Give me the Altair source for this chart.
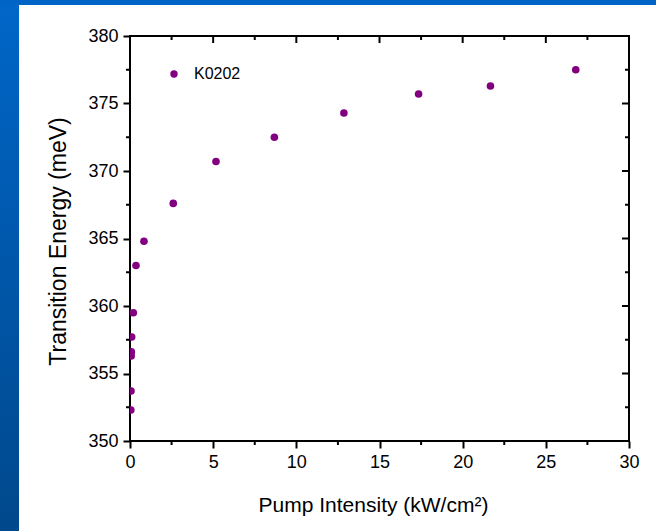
import altair as alt
import pandas as pd

# ---- data ----
series_name = "K0202"
pump_intensity = [0.05, 0.06, 0.07, 0.08, 0.10, 0.20, 0.36, 0.84, 2.60, 5.17, 8.68, 12.86, 17.35, 21.67, 26.80]
transition_energy = [352.3, 353.7, 356.3, 356.6, 357.7, 359.5, 363.0, 364.8, 367.6, 370.7, 372.5, 374.3, 375.7, 376.3, 377.5]

x_major = [0, 5, 10, 15, 20, 25, 30]
x_minor = [2.5, 7.5, 12.5, 17.5, 22.5, 27.5]
y_major = [350, 355, 360, 365, 370, 375, 380]
y_minor = [352.5, 357.5, 362.5, 367.5, 372.5, 377.5]

W, H = 499, 405
FONT = "Liberation Sans"
PURPLE = "#800080"

df = pd.DataFrame({"x": pump_intensity, "y": transition_energy, "s": [series_name] * len(pump_intensity)})

xscale = alt.Scale(domain=[0, 30], nice=False, zero=False)
yscale = alt.Scale(domain=[350, 380], nice=False, zero=False)

xaxis = alt.Axis(
    values=x_major, format="d", tickSize=7, tickWidth=2, tickColor="black",
    domain=False, grid=False, labelFont=FONT, labelFontSize=18, labelColor="black",
    labelPadding=5, labelFlush=False, labelOverlap=False,
    title="Pump Intensity (kW/cm²)", titleFont=FONT, titleFontSize=21,
    titleFontWeight="normal", titleColor="black", titleX=243, titleY=64,
    titleBaseline="middle", titleAlign="center",
)
yaxis = alt.Axis(
    values=y_major, format="d", tickSize=7, tickWidth=2, tickColor="black",
    domain=False, grid=False, labelFont=FONT, labelFontSize=18, labelColor="black",
    labelPadding=5, labelFlush=False, labelOverlap=False,
    title="Transition Energy (meV)", titleFont=FONT, titleFontSize=23,
    titleFontWeight="normal", titleColor="black", titleX=-72, titleY=205,
    titleAngle=-90, titleBaseline="middle", titleAlign="center",
)

def X(field="x"):
    return alt.X(f"{field}:Q", scale=xscale, axis=xaxis)

def Y(field="y"):
    return alt.Y(f"{field}:Q", scale=yscale, axis=yaxis)

one = alt.Data(values=[{"a": 1}])

left_band = alt.Chart(one).mark_rect(
    color=alt.LinearGradient(
        gradient="linear", x1=0, x2=0, y1=0, y2=1,
        stops=[alt.GradientStop(color="#0066C8", offset=0), alt.GradientStop(color="#00488C", offset=1)],
    )
).encode(x=alt.value(-130), x2=alt.value(-111), y=alt.value(-36), y2=alt.value(495))

top_band = alt.Chart(one).mark_rect(color="#0064C6").encode(
    x=alt.value(-130), x2=alt.value(526), y=alt.value(-36), y2=alt.value(-31)
)

xmin_df = pd.DataFrame({"x": x_minor})
xmaj_df = pd.DataFrame({"x": x_major})
ymin_df = pd.DataFrame({"y": y_minor})
ymaj_df = pd.DataFrame({"y": y_major})

rule = dict(color="black", strokeWidth=2)
bottom_minor = alt.Chart(xmin_df).mark_rule(**rule).encode(x=X(), y=alt.value(H), y2=alt.value(H + 4))
top_major = alt.Chart(xmaj_df).mark_rule(**rule).encode(x=X(), y=alt.value(0), y2=alt.value(7))
top_minor = alt.Chart(xmin_df).mark_rule(**rule).encode(x=X(), y=alt.value(0), y2=alt.value(4))
left_minor = alt.Chart(ymin_df).mark_rule(**rule).encode(y=Y(), x=alt.value(-4), x2=alt.value(0))
right_major = alt.Chart(ymaj_df).mark_rule(**rule).encode(y=Y(), x=alt.value(W - 7), x2=alt.value(W))
right_minor = alt.Chart(ymin_df).mark_rule(**rule).encode(y=Y(), x=alt.value(W - 4), x2=alt.value(W))

points = alt.Chart(df).mark_circle(size=58, opacity=1, clip=True).encode(
    x=X(),
    y=Y(),
    color=alt.Color(
        "s:N",
        scale=alt.Scale(domain=[series_name], range=[PURPLE]),
        legend=alt.Legend(
            orient="none", legendX=36, legendY=30, title=None, padding=0,
            symbolType="circle", symbolSize=55, symbolStrokeWidth=0,
            labelFont=FONT, labelFontSize=16, labelColor="black", labelOffset=12,
        ),
    ),
)

chart = alt.layer(
    left_band, top_band, bottom_minor, top_major, top_minor,
    left_minor, right_major, right_minor, points,
).properties(
    width=W, height=H,
    autosize=alt.AutoSizeParams(type="none"),
    padding={"left": 130, "top": 36, "right": 27, "bottom": 90},
    background="white",
).configure_view(stroke="black", strokeWidth=2)

chart.save("out.html", embed_options={"renderer": "svg", "actions": False})
